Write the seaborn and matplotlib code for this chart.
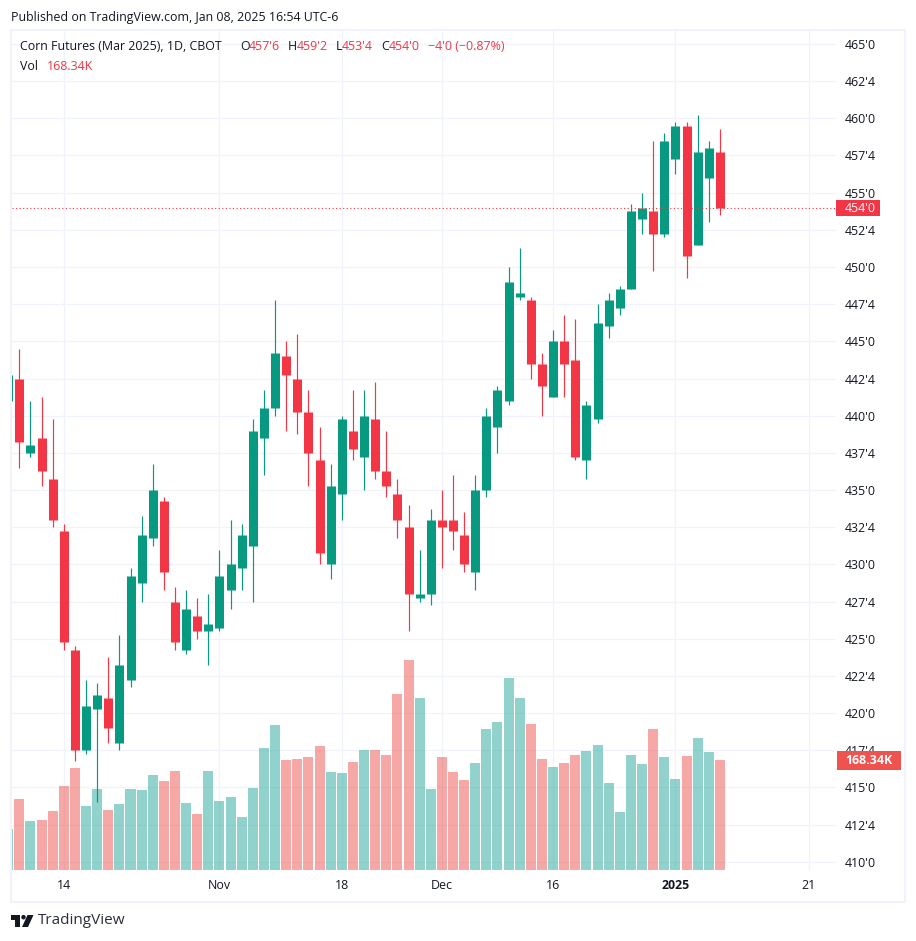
import matplotlib
matplotlib.use("Agg")
import matplotlib.pyplot as plt
from matplotlib.patches import Rectangle, Polygon, Circle
import seaborn as sns
import pandas as pd
import numpy as np

# one entry per session, starts with the candle cut off at the left edge
opens = [441, 442.5, 437.5, 438.5, 435.75, 432.25, 424.25, 417.5, 420.25, 421, 418,
         422.25, 428.75, 431.75, 434.25, 427.5, 424.25, 426.5, 425.5, 425.75, 428.25,
         429.75, 431.25, 438.5, 440.5, 444, 442.5, 440.25, 437, 430, 434.75,
         439, 437.25, 439.75, 436.25, 434.75, 432.5, 427.75, 428, 433, 433,
         432, 429.5, 435, 439.25, 441, 448, 447.75, 443.5, 441.25, 445,
         443.75, 437, 439.75, 446, 447.25, 448.5, 453.25, 453.75, 452.25, 457.25,
         459.5, 451.5, 456, 457.75]
closes = [442.75, 438.25, 438, 436.25, 433, 424.75, 417.5, 420.5, 421.25, 419, 423.25,
          429.25, 432, 435, 429.5, 424.75, 427, 425.5, 426, 429.25, 430,
          432, 439, 440.5, 444.25, 442.75, 440.25, 437.5, 430.75, 435.25, 439.75,
          437.75, 440, 436.25, 435.25, 433, 428, 428, 433, 432.5, 432.25,
          430, 435, 440, 441.75, 449, 448.25, 443.5, 442, 445, 443.5,
          437.25, 440.75, 446.25, 447.75, 448.5, 453.75, 454, 452.25, 458.5, 459.5,
          450.75, 457.75, 458, 454]
highs = [442.75, 444.5, 441, 441.25, 439.75, 432.75, 424.5, 422.25, 422, 423.75, 425.25,
         429.75, 433.25, 436.75, 434.5, 428.5, 428.25, 427.75, 428, 431, 433,
         432.75, 439.75, 441.75, 447.75, 445, 445.5, 441.75, 439.25, 436.75, 440,
         441.75, 441.75, 442.25, 439, 435.75, 434, 431, 433.75, 435, 436,
         433.5, 436, 440.5, 442, 450, 451.25, 448, 444.25, 445.75, 446.75,
         446.5, 441, 447.5, 448.25, 448.75, 454.25, 455, 458.5, 459, 459.75,
         459.75, 460.25, 458.5, 459.25]
lows = [441, 436.5, 437.25, 435.25, 432.5, 424.25, 416.75, 417.25, 414, 418, 417.5,
        421.75, 427.5, 431.25, 428.25, 424.25, 424, 425, 423.25, 425.5, 427,
        428.25, 427.5, 436, 440, 439, 438.75, 435.25, 430, 429, 433,
        437, 435, 435.75, 434.5, 431.75, 425.5, 427.5, 427.25, 429.75, 431,
        429.5, 428.25, 434.5, 437.5, 440.75, 447.75, 442.5, 440, 441.25, 441.25,
        437, 435.75, 439.5, 445.25, 446.75, 448.5, 452.25, 449.75, 452, 456.25,
        449.25, 451.5, 453, 453.5]
# thousands of contracts
volumes = [63, 109, 75, 76.5, 90, 128.5, 156, 98, 124, 92, 101,
           124, 122, 145, 136, 151.5, 102.5, 85.5, 151.5, 105.5, 111.5,
           81, 125.5, 186.5, 222, 168.5, 170, 173, 190, 150, 148.5,
           165, 183.5, 183.5, 176, 269.5, 321, 263, 124, 173, 150,
           137.5, 163.5, 215.5, 226.5, 294, 263, 223.5, 170, 157.5, 163.5,
           176, 182, 191, 133, 88.5, 176, 162, 215.5, 173, 139,
           174.5, 202, 180.5, 168.34]

price_ticks = list(np.arange(410, 465.1, 2.5))
date_ticks = [4, 18, 29, 38, 48, 59, 71]
date_labels = ["14", "Nov", "18", "Dec", "16", "2025", "21"]
last_price = 454.0

UP = "#089981"
DOWN = "#F23645"
VOL_UP = "#26A69A"
VOL_DOWN = "#EF5350"
TEXT = "#131722"
GRID = "#F0F3FA"
W, H = 916, 941


def tick_text(p):
    # cbot style, quarters written as eighths after the tick mark
    whole = int(p)
    return f"{whole}'{int(round((p - whole) * 8))}"


def put(x, y, s, **kw):
    kw.setdefault("color", TEXT)
    kw.setdefault("fontsize", 8.9)
    kw.setdefault("va", "center")
    return fig.text(x / W, 1 - y / H, s, **kw)


def box(x0, y0, x1, y1, **kw):
    fig.add_artist(Rectangle((x0 / W, 1 - y1 / H), (x1 - x0) / W, (y1 - y0) / H,
                             transform=fig.transFigure, **kw))


sns.set_theme(style="white")
plt.rcParams["font.family"] = ["Open Sans", "DejaVu Sans"]

idx = np.arange(len(opens)) - 1
df = pd.DataFrame({"idx": idx, "open": opens, "close": closes, "high": highs,
                   "low": lows, "vol": volumes})
df["side"] = np.where(df["close"] >= df["open"], "up", "down")
palette = {"up": UP, "down": DOWN}

wicks = df.melt(id_vars=["idx", "side"], value_vars=["high", "low"], value_name="price")
bodies = df.melt(id_vars=["idx", "side"], value_vars=["open", "close"], value_name="price")

fig = plt.figure(figsize=(W / 100, H / 100), dpi=100, facecolor="white")
rect = [12 / W, 1 - 870 / H, 824 / W, 839 / H]
ax_vol = fig.add_axes(rect, zorder=1)
ax = fig.add_axes(rect, zorder=2)
ax.patch.set_visible(False)

y_min, y_max = 409.45, 465.87
x_min, x_max = -0.656, 73.44
vol_max = 1283.7

sns.barplot(data=df, x="idx", y="vol", hue="side", palette={"up": VOL_UP, "down": VOL_DOWN},
            native_scale=True, dodge=False, width=0.9, saturation=1, alpha=0.5,
            linewidth=0, legend=False, ax=ax_vol)
ax_vol.set_xlim(x_min, x_max)
ax_vol.set_ylim(0, vol_max)
ax_vol.set_xticks(date_ticks)
ax_vol.set_yticks((np.array(price_ticks) - y_min) / (y_max - y_min) * vol_max)
ax_vol.grid(True, color=GRID, linewidth=0.9)
ax_vol.set_axisbelow(True)
ax_vol.set_xlabel("")
ax_vol.set_ylabel("")
ax_vol.tick_params(length=0, labelbottom=False, labelleft=False)

sns.lineplot(data=wicks, x="idx", y="price", hue="side", units="idx", estimator=None,
             palette=palette, linewidth=0.85, legend=False, ax=ax, solid_capstyle="butt")
sns.lineplot(data=bodies, x="idx", y="price", hue="side", units="idx", estimator=None,
             palette=palette, linewidth=6.5, legend=False, ax=ax, solid_capstyle="butt")
ax.axhline(last_price, color=DOWN, linewidth=0.8, linestyle=(0, (1, 2.2)))

ax.set_xlim(x_min, x_max)
ax.set_ylim(y_min, y_max)
ax.yaxis.tick_right()
ax.set_yticks(price_ticks, [tick_text(p) for p in price_ticks])
ax.set_xticks(date_ticks, date_labels)
ax.set_xlabel("")
ax.set_ylabel("")
ax.tick_params(axis="y", length=0, pad=6.5, labelsize=8.9, labelcolor=TEXT)
ax.tick_params(axis="x", length=0, pad=6.5, labelsize=8.9, labelcolor=TEXT)
ax.get_xticklabels()[5].set_fontweight("bold")
for a in (ax, ax_vol):
    for spine in a.spines.values():
        spine.set_visible(False)

# outer frame of the widget
box(11, 30, 905, 902, fill=False, edgecolor=GRID, linewidth=1.5, zorder=0)

put(11, 17, "Published on TradingView.com, Jan 08, 2025 16:54 UTC-6")
put(20, 47, "Corn Futures (Mar 2025), 1D, CBOT")
for x, s, col in [(240, "O", TEXT), (249, "457'6", DOWN), (288, "H", TEXT), (297, "459'2", DOWN),
                  (336, "L", TEXT), (342, "453'4", DOWN), (381, "C", TEXT), (389, "454'0", DOWN),
                  (428, "\u22124'0 (\u22120.87%)", DOWN)]:
    put(x, 47, s, color=col)
put(20, 66, "Vol")
put(47, 66, "168.34K", color=DOWN)

# tags on the price scale
box(836, 200, 880, 216, facecolor=DOWN, edgecolor="none", zorder=5)
put(845, 208, "454'0", color="white", zorder=6)
box(837, 751, 901, 770, facecolor=VOL_DOWN, edgecolor="none", zorder=5)
put(845, 761, "168.34K", color="white", fontweight="bold", zorder=6)

# logo mark
logo = TEXT
box(11, 915, 20, 919.5, facecolor=logo, edgecolor="none")
box(15, 915, 20, 927, facecolor=logo, edgecolor="none")
fig.add_artist(Circle((23.5 / W, 1 - 917.2 / H), 2.2 / W, transform=fig.transFigure,
                      facecolor=logo, edgecolor="none"))
fig.add_artist(Polygon([(27.5 / W, 1 - 915 / H), (33.5 / W, 1 - 915 / H), (28 / W, 1 - 927 / H),
                        (22 / W, 1 - 927 / H)], transform=fig.transFigure, facecolor=logo,
                       edgecolor="none"))
put(38, 921, "TradingView", fontsize=11, color="#2A2E39")

fig.savefig("out.png", dpi=100, facecolor="white")
